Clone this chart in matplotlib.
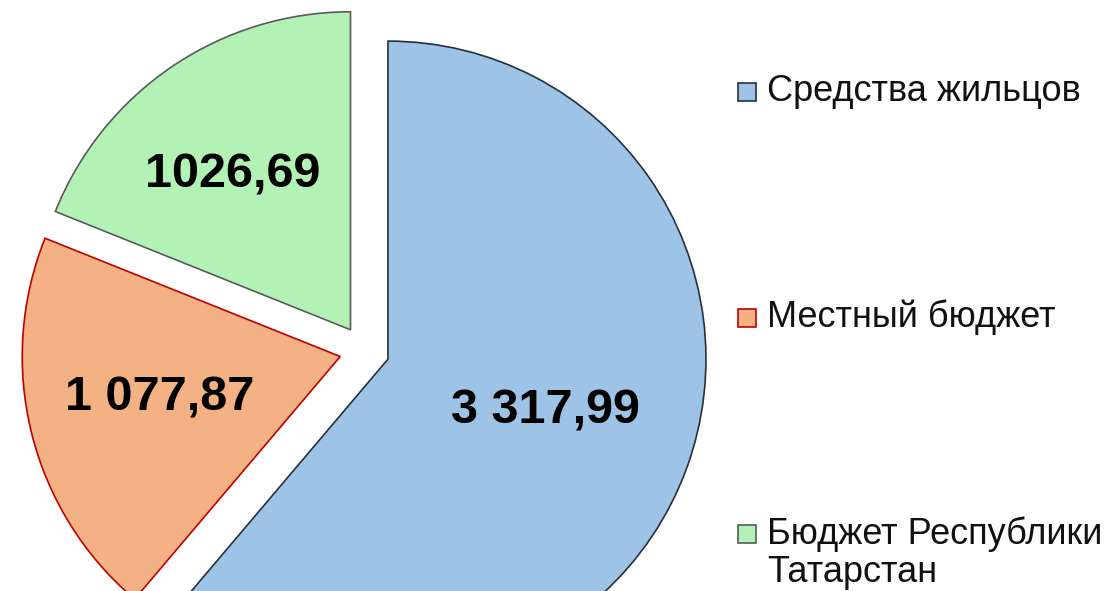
import matplotlib.pyplot as plt
from matplotlib.patches import Rectangle

labels = ["Средства жильцов", "Местный бюджет", "Бюджет Республики\nТатарстан"]
values = [3317.99, 1077.87, 1026.69]
value_texts = ["3 317,99", "1 077,87", "1026,69"]
colors = ["#9DC3E6", "#F4B183", "#B2F2B5"]
edges = ["#26303C", "#C00000", "#5A5A5A"]

plt.rcParams["font.family"] = ["Liberation Sans", "DejaVu Sans"]

W, H = 1112, 591
fig = plt.figure(figsize=(W / 100, H / 100), dpi=100)
ax = fig.add_axes([0, 0, 1, 1])

R = 318
# explode is in data units here (pixels)
wedges, _ = ax.pie(values, radius=R, center=(364.5, H - 350.5), startangle=90,
                   counterclock=False, colors=colors, explode=[25] * 3,
                   wedgeprops=dict(linewidth=1.2))
for w, ec in zip(wedges, edges):
    w.set_edgecolor(ec)

# value labels
label_pos = [(545, 411), (160, 398), (233, 175)]
for (x, y), t in zip(label_pos, value_texts):
    ax.text(x, H - y, t, ha="center", va="center", fontsize=35,
            fontweight="bold", color="black")

# legend
legend_y = [91.5, 317.5, 534]
for y, lab, c, ec in zip(legend_y, labels, colors, edges):
    ax.add_patch(Rectangle((738, H - y - 9), 18, 18, facecolor=c,
                           edgecolor=ec, linewidth=1.2))
    for i, line in enumerate(lab.split("\n")):
        ax.text(767, H - y - i * 39, line, ha="left", va="center",
                fontsize=26, color="#111111")

ax.set_xlim(0, W)
ax.set_ylim(0, H)
ax.set_aspect("equal")
ax.axis("off")

fig.savefig("out.png", dpi=100)
